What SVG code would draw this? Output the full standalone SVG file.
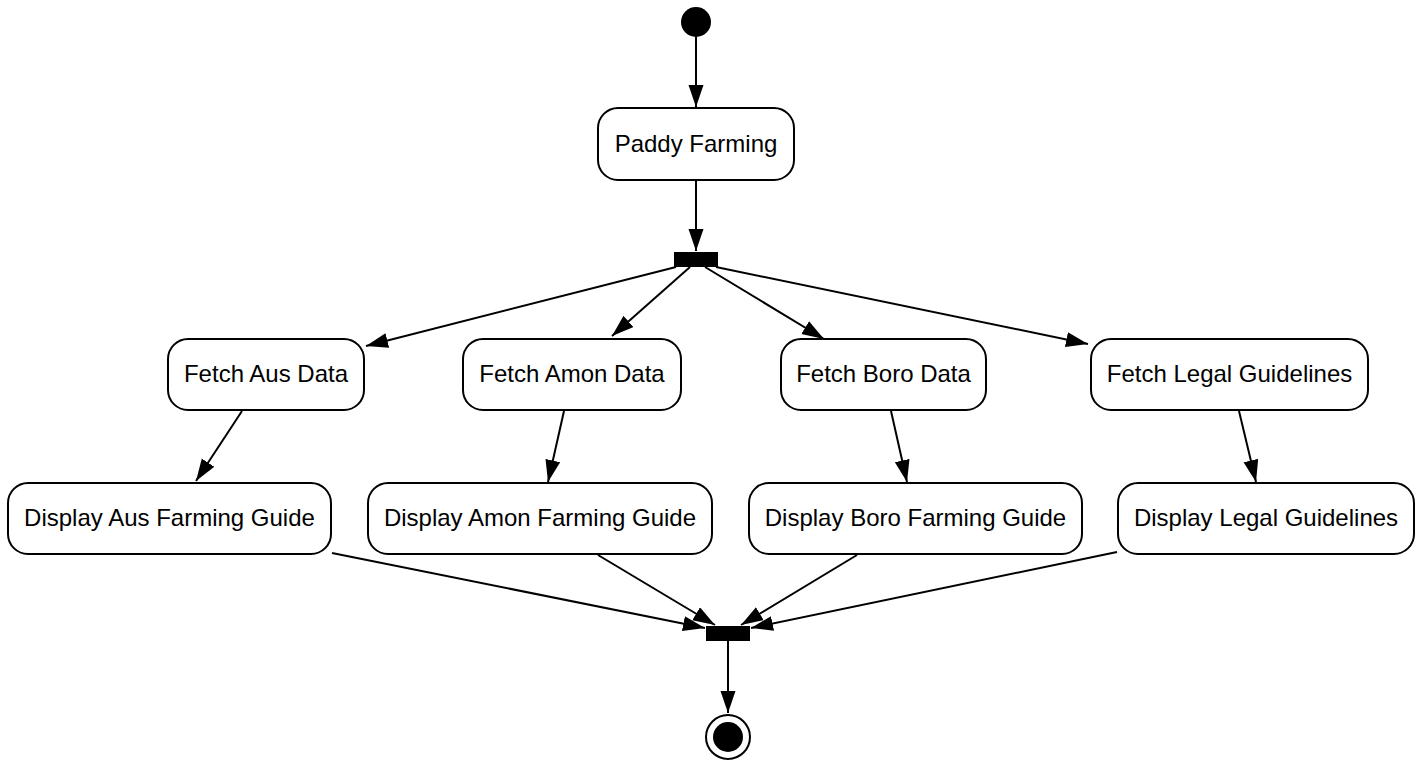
<svg xmlns="http://www.w3.org/2000/svg" width="1422" height="766" viewBox="0 0 1422 766">
<style>
.n{fill:#fff;stroke:#000;stroke-width:2}
.t{font-family:"Liberation Sans",Arial,sans-serif;font-size:24px;text-anchor:middle;fill:#000}
.e{stroke:#000;stroke-width:2;fill:none;marker-end:url(#a)}
.b{fill:#000}
</style>
<defs>
<marker id="a" markerUnits="userSpaceOnUse" markerWidth="23" markerHeight="16" refX="22" refY="7.5" orient="auto">
<path d="M0,0 L22,7.5 L0,15 z" fill="#000"/>
</marker>
</defs>
<rect width="1422" height="766" fill="#fff"/>
<g id="edges">
<line class="e" x1="696" y1="37" x2="696" y2="107"/>
<line class="e" x1="696" y1="180" x2="696" y2="251"/>
<line class="e" x1="676" y1="267" x2="366" y2="346"/>
<line class="e" x1="690" y1="267" x2="612" y2="336"/>
<line class="e" x1="705" y1="267" x2="824" y2="339"/>
<line class="e" x1="716" y1="267" x2="1088" y2="344"/>
<line class="e" x1="242" y1="411" x2="196" y2="481"/>
<line class="e" x1="564" y1="411" x2="548" y2="482"/>
<line class="e" x1="891" y1="411" x2="907" y2="482"/>
<line class="e" x1="1239" y1="411" x2="1256" y2="482"/>
<line class="e" x1="332" y1="553" x2="705" y2="628"/>
<line class="e" x1="598" y1="555" x2="715" y2="625"/>
<line class="e" x1="857" y1="555" x2="741" y2="625"/>
<line class="e" x1="1117" y1="552" x2="751" y2="628"/>
<line class="e" x1="728" y1="641" x2="728" y2="713"/>
</g>
<g id="start"><circle cx="696" cy="22" r="15" class="b"/></g>
<g id="paddy"><rect class="n" x="598" y="108" width="196" height="72" rx="20"/><text class="t" x="696" y="152">Paddy Farming</text></g>
<g id="fork"><rect class="b" x="674" y="252" width="44" height="15"/></g>
<g id="fetchAus"><rect class="n" x="168" y="339" width="196" height="71" rx="20"/><text class="t" x="266" y="382">Fetch Aus Data</text></g>
<g id="fetchAmon"><rect class="n" x="463" y="339" width="218" height="71" rx="20"/><text class="t" x="572" y="382">Fetch Amon Data</text></g>
<g id="fetchBoro"><rect class="n" x="781" y="339" width="205" height="71" rx="20"/><text class="t" x="883.5" y="382">Fetch Boro Data</text></g>
<g id="fetchLegal"><rect class="n" x="1091" y="339" width="277" height="71" rx="20"/><text class="t" x="1229.5" y="382">Fetch Legal Guidelines</text></g>
<g id="dispAus"><rect class="n" x="8" y="483" width="323" height="71" rx="20"/><text class="t" x="169.5" y="526">Display Aus Farming Guide</text></g>
<g id="dispAmon"><rect class="n" x="368" y="483" width="344" height="71" rx="20"/><text class="t" x="540" y="526">Display Amon Farming Guide</text></g>
<g id="dispBoro"><rect class="n" x="749" y="483" width="333" height="71" rx="20"/><text class="t" x="915.5" y="526">Display Boro Farming Guide</text></g>
<g id="dispLegal"><rect class="n" x="1118" y="483" width="296" height="71" rx="20"/><text class="t" x="1266" y="526">Display Legal Guidelines</text></g>
<g id="join"><rect class="b" x="706" y="626" width="44" height="15"/></g>
<g id="end"><circle cx="728" cy="737" r="22" fill="#fff" stroke="#000" stroke-width="2"/><circle cx="728" cy="737" r="15" class="b"/></g>
</svg>
